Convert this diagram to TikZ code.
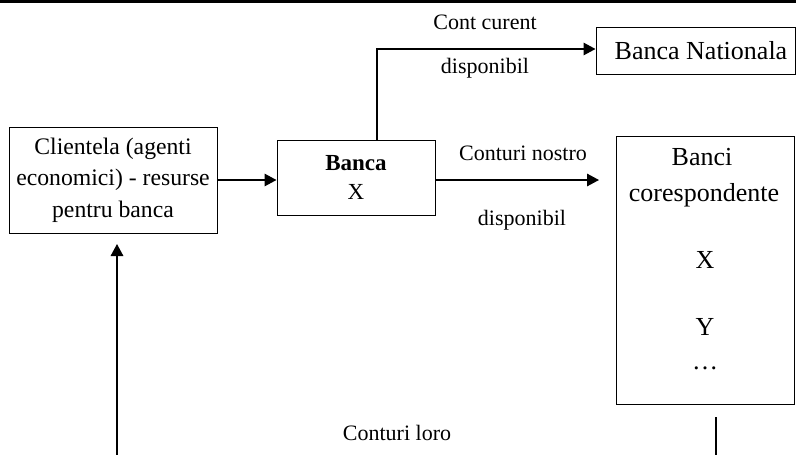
\documentclass[tikz,border=0pt]{standalone}
\usepackage{fontspec}
\setmainfont{Liberation Serif}
\usetikzlibrary{arrows.meta}
\begin{document}
\begin{tikzpicture}[x=1pt,y=-1pt,
  box/.style={draw, line width=1pt, inner sep=0pt, align=center},
  conn/.style={line width=1.5pt},
  arr/.style={conn, -{Triangle[length=12pt,width=12.5pt]}},
  lbl/.style={inner sep=0pt, font=\fontsize{22}{26}\selectfont},
  btxt/.style={inner sep=0pt, font=\fontsize{26}{30}\selectfont}]
\useasboundingbox (0,0) rectangle (796,455);
\fill (0,0) rectangle (796,3);

% boxes
\node[box, minimum width=208pt, minimum height=106pt, font=\fontsize{23.7}{31.5}\selectfont] (cli) at (113,180) {Clientela (agenti\\economici) - resurse\\pentru banca};
\node[box, minimum width=158pt, minimum height=75pt, font=\fontsize{23}{29}\selectfont] (bx) at (356,177.5) {\textbf{Banca}\\X};
\node[box, minimum width=199pt, minimum height=47pt, font=\fontsize{26}{30}\selectfont] (nat) at (695.5,50.5) {\hspace*{11pt}Banca Nationala};
\node[box, minimum width=178pt, minimum height=268pt] (bc) at (705,270) {};
\node[btxt] (bc1) at (702,157) {Banci};
\node[btxt] (bc2) at (704,195) {corespondente};
\node[btxt] (bc3) at (705,260) {X};
\node[btxt] (bc4) at (705,327) {Y};
\node[btxt] (bc5) at (705,368) {…};

% coordinates
\coordinate (nostroend) at (599,180);
\coordinate (up) at (377,49);
\coordinate (loroL) at (117,455);
\coordinate (cliin) at (117,244);
\coordinate (loroR) at (716,455);
\coordinate (loroRtop) at (716,417);

% connectors
\draw[arr] (cli.east |- nostroend) -- (bx.west |- nostroend);
\draw[arr] (bx.east |- nostroend) -- (nostroend);
\draw[arr] (up |- bx.north) -- (up) -- (nat.west |- up);
\draw[arr] (loroL) -- (cliin);
\draw[conn] (loroRtop) -- (loroR);

% labels
\node[lbl] (cc) at (485,22) {Cont curent};
\node[lbl] (d1) at (485,68) {disponibil};
\node[lbl] (cn) at (523,153) {Conturi nostro};
\node[lbl] (d2) at (522,220) {disponibil};
\node[lbl] (cl) at (397,433) {Conturi loro};
\end{tikzpicture}
\end{document}
